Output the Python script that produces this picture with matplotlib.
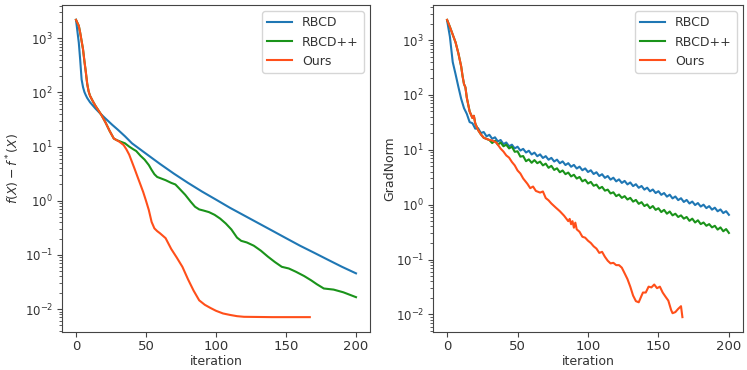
import matplotlib
matplotlib.use('Agg')
import matplotlib.pyplot as plt

# ---- left panel: f(X) - f*(X) ----
rbcd_it = [0, 1, 2, 3, 4, 5, 6, 7, 8, 10, 14, 17, 21, 26, 30, 35, 40, 50, 60, 70, 80,
           90, 100, 110, 120, 130, 140, 150, 160, 170, 180, 190, 200]
rbcd_obj = [2190, 1350, 830, 398, 174, 126, 102, 89, 79, 66, 50.1, 41.7, 33.1, 25.1, 20.4,
            15.5, 11.5, 7.41, 4.79, 3.16, 2.14, 1.48, 1.05, 0.741, 0.537, 0.389, 0.282,
            0.204, 0.148, 0.110, 0.0813, 0.0603, 0.0457]

rbcdpp_it = [0, 2, 3, 4, 5, 6, 7, 8, 9, 10, 12, 14, 16, 18, 21, 24, 27, 29, 32, 35, 38, 41,
             43, 46, 49, 52, 54, 56, 58, 61, 64, 68, 71, 74, 78, 82, 85, 88, 91, 95, 99, 103,
             107, 111, 115, 118, 122, 127, 132, 137, 142, 147, 152, 157, 163, 168, 172, 177,
             184, 191, 200]
rbcdpp_obj = [2190, 1700, 1260, 891, 631, 380, 240, 145, 105, 87, 69, 56, 46.8, 38.9, 28.2,
              19.5, 14.1, 13.2, 12.3, 11.5, 10.0, 8.9, 8.3, 6.8, 5.75, 4.57, 3.72, 3.09, 2.75,
              2.57, 2.40, 2.14, 2.0, 1.66, 1.29, 0.955, 0.776, 0.692, 0.661, 0.617, 0.550,
              0.468, 0.380, 0.295, 0.209, 0.182, 0.170, 0.148, 0.120, 0.0933, 0.0741, 0.0603,
              0.0562, 0.0490, 0.0407, 0.0339, 0.0288, 0.0240, 0.0229, 0.0204, 0.0166]

ours_it = [0, 2, 3, 4, 5, 6, 7, 8, 9, 10, 12, 14, 16, 18, 21, 24, 27, 29, 31, 34, 36, 38, 40,
           42, 44, 46, 48, 50, 52, 54, 56, 58, 60, 64, 68, 72, 76, 80, 84, 88, 92, 96, 100,
           105, 110, 115, 120, 140, 167]
ours_obj = [2190, 1700, 1260, 891, 631, 380, 240, 145, 105, 87, 69, 56, 46.8, 38.9, 28.2,
            19.5, 14.1, 13.2, 12.3, 10.7, 8.9, 7.1, 5.2, 3.8, 2.75, 2.0, 1.45, 1.0, 0.676,
            0.407, 0.309, 0.275, 0.251, 0.204, 0.129, 0.0891, 0.0603, 0.0355, 0.0219, 0.0145,
            0.0120, 0.0105, 0.0093, 0.0083, 0.0078, 0.0074, 0.0072, 0.0071, 0.0071]

# ---- right panel: GradNorm ----
rbcd_g_it = list(range(0, 201, 2))
rbcd_grad = [2290, 1150, 398, 240, 141, 85, 57.5, 45.2, 32.0, 30.5, 24.3, 24.8, 20.2, 21.1,
             17.6, 18.8, 15.9, 16.9, 14.2, 15.1, 12.7, 13.6, 11.6, 12.4, 10.6, 11.4, 9.70,
             10.4, 8.93, 9.62, 8.22, 8.89, 7.64, 8.26, 7.10, 7.67, 6.59, 7.13, 6.12, 6.62,
             5.69, 6.15, 5.28, 5.71, 4.91, 5.31, 4.56, 4.93, 4.24, 4.58, 3.94, 4.24, 3.62,
             3.90, 3.33, 3.59, 3.08, 3.33, 2.86, 3.10, 2.66, 2.89, 2.49, 2.71, 2.34, 2.54,
             2.18, 2.36, 2.03, 2.19, 1.88, 2.04, 1.75, 1.89, 1.63, 1.76, 1.51, 1.63, 1.40,
             1.52, 1.30, 1.41, 1.21, 1.31, 1.12, 1.22, 1.05, 1.14, 0.984, 1.07, 0.923, 1.00,
             0.865, 0.940, 0.811, 0.881, 0.757, 0.818, 0.703, 0.760, 0.653]

rbcdpp_g_it = [0, 2, 4, 6, 8, 10, 11, 12, 13, 14, 16, 18, 19, 20, 22, 24, 26, 28, 30] + \
              list(range(32, 201, 2))
rbcdpp_grad = [2340, 1740, 1260, 912, 575, 331, 219, 158, 138, 89, 50, 38, 41.7, 30.2, 22.9,
               19.1, 16.6, 15.8, 15.1,
               13.3, 14.6, 12.4, 13.6, 11.6, 12.4, 10.6, 11.4, 9.2, 9.4, 7.5, 7.7, 6.2, 6.7,
               5.8, 6.5, 5.7, 6.1, 5.2, 5.6, 4.7, 5.1, 4.3, 4.6, 3.9, 4.2, 3.6, 3.85, 3.27,
               3.51, 2.99, 3.20, 2.66, 2.85, 2.43, 2.60, 2.21, 2.32, 1.97, 2.11, 1.80, 1.88,
               1.60, 1.68, 1.43, 1.53, 1.33, 1.43, 1.24, 1.33, 1.135, 1.22, 1.035, 1.11, 0.944,
               1.01, 0.861, 0.944, 0.804, 0.861, 0.733, 0.804, 0.684, 0.750, 0.638, 0.684,
               0.596, 0.638, 0.556, 0.596, 0.507, 0.556, 0.473, 0.519, 0.442, 0.473, 0.412,
               0.442, 0.385, 0.412, 0.351, 0.385, 0.327, 0.359, 0.305]

ours_g_it = [0, 2, 4, 6, 8, 10, 11, 12, 13, 14, 16, 18, 19, 20, 22, 24, 26, 28, 30, 32, 35,
             38, 40, 42, 44, 46, 48, 50, 52, 54, 57, 59, 61, 63, 66, 68, 70, 72, 74, 77, 80,
             83, 86, 87, 88, 89, 90, 91, 92, 94, 96, 98, 100, 102, 104, 106, 108, 110, 112,
             114, 116, 118, 120, 122, 124, 126, 128, 130, 132, 134, 136, 138, 139, 141, 143,
             145, 147, 149, 151, 153, 155, 157, 159, 160, 162, 164, 166, 167]
ours_grad = [2340, 1740, 1260, 912, 575, 331, 219, 158, 138, 89, 50, 38, 41.7, 30.2, 22.9,
             19.1, 16.6, 15.8, 15.1, 14.8, 13.5, 10.5, 9.3, 7.9, 7.2, 6.0, 5.2, 4.2, 3.7, 3.0,
             2.4, 2.0, 2.14, 1.78, 1.66, 1.74, 1.32, 1.20, 1.05, 0.89, 0.76, 0.63, 0.50, 0.55,
             0.44, 0.50, 0.38, 0.47, 0.355, 0.32, 0.26, 0.25, 0.22, 0.20, 0.174, 0.158, 0.132,
             0.138, 0.112, 0.095, 0.085, 0.087, 0.079, 0.079, 0.071, 0.056, 0.044, 0.032,
             0.022, 0.0174, 0.0166, 0.0219, 0.025, 0.025, 0.032, 0.031, 0.035, 0.030, 0.032,
             0.025, 0.021, 0.0178, 0.012, 0.0105, 0.011, 0.0126, 0.0141, 0.0089]

labels = ['RBCD', 'RBCD++', 'Ours']
colors = ['#1f77b4', '#1a931a', '#ff4f1a']

plt.rcParams['font.family'] = ['DejaVu Sans']
plt.rcParams['font.size'] = 10
plt.rcParams['text.color'] = '#333333'
plt.rcParams['axes.labelcolor'] = '#333333'
plt.rcParams['axes.edgecolor'] = '#444444'
plt.rcParams['xtick.color'] = '#444444'
plt.rcParams['ytick.color'] = '#444444'
plt.rcParams['xtick.labelcolor'] = '#333333'
plt.rcParams['ytick.labelcolor'] = '#333333'

fig = plt.figure(figsize=(7.47, 3.70), dpi=100)
ax1 = fig.add_axes([62 / 747, 1 - 332 / 370, 308 / 747, 327 / 370])
ax2 = fig.add_axes([433 / 747, 1 - 332 / 370, 310 / 747, 327 / 370])

ax1.plot(rbcd_it, rbcd_obj, color=colors[0], lw=1.5, label=labels[0])
ax1.plot(rbcdpp_it, rbcdpp_obj, color=colors[1], lw=1.5, label=labels[1])
ax1.plot(ours_it, ours_obj, color=colors[2], lw=1.5, label=labels[2])
ax1.set_ylabel(r'$f(X) - f^*(X)$', fontsize=9)
ax1.yaxis.set_label_coords(-0.13, 0.5)

ax2.plot(rbcd_g_it, rbcd_grad, color=colors[0], lw=1.5, label=labels[0])
ax2.plot(rbcdpp_g_it, rbcdpp_grad, color=colors[1], lw=1.5, label=labels[1])
ax2.plot(ours_g_it, ours_grad, color=colors[2], lw=1.5, label=labels[2])
ax2.set_ylabel('GradNorm', fontsize=9)
ax2.yaxis.set_label_coords(-0.12, 0.5)

for ax in (ax1, ax2):
    ax.set_yscale('log')
    ax.set_xticks([0, 50, 100, 150, 200])
    ax.tick_params(axis='x', pad=2.5, labelsize=9.5)
    ax.tick_params(axis='y', which='major', pad=3, labelsize=8.5)
    ax.set_xlabel('iteration', fontsize=9, labelpad=1)
    ax.legend(loc='upper right', fontsize=9)

fig.savefig('out.png', dpi=100)
